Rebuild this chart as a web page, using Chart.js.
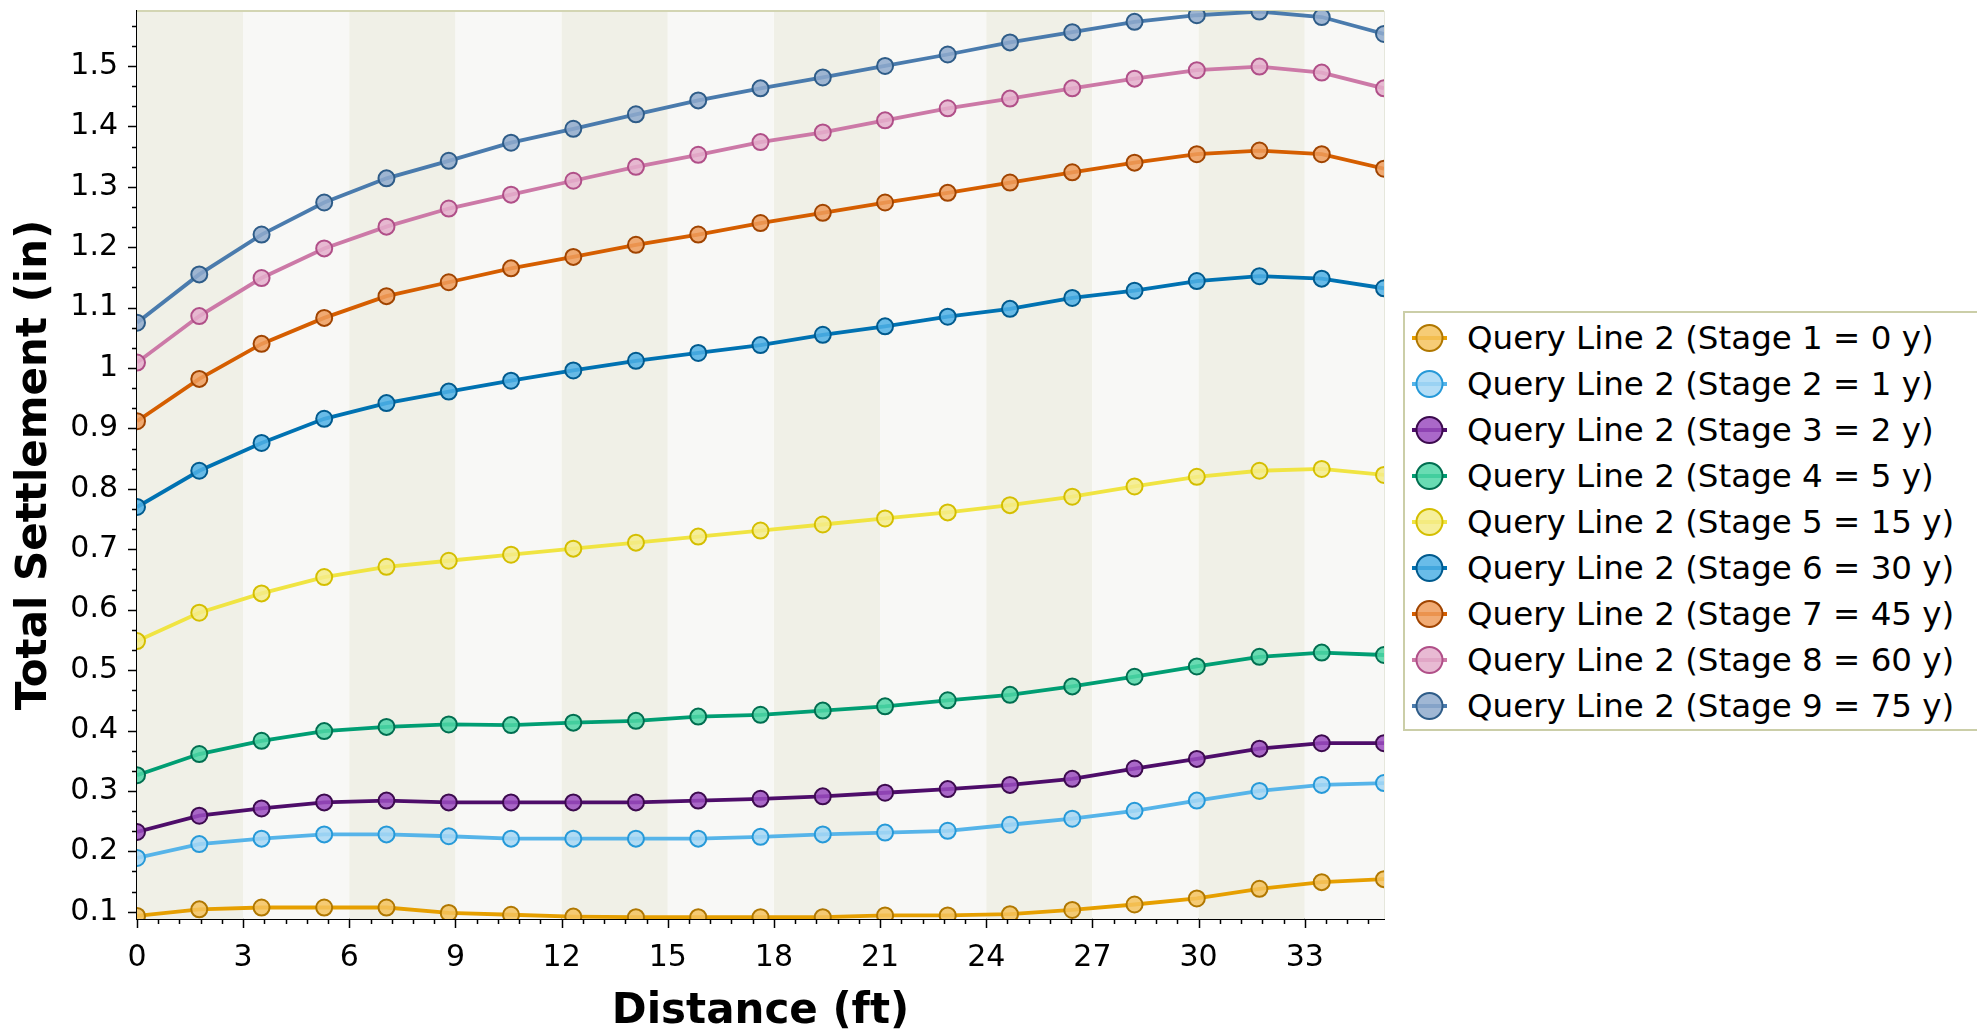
<!DOCTYPE html>
<html>
<head>
<meta charset="utf-8">
<script src="https://cdn.jsdelivr.net/npm/chart.js@4.4.1/dist/chart.umd.min.js"></script>
<style>
  html, body { margin: 0; padding: 0; background: #fff; overflow: hidden; }
  #wrap { position: relative; width: 1977px; height: 1031px; }
  #legend {
    position: absolute; left: 1403px; top: 311px; width: 640px; height: 416px;
    border: 2px solid #cbcea8; background: #fff; color: #000;
    font-family: 'DejaVu Sans', sans-serif; font-size: 32.5px;
  }
  .item { position: absolute; left: 0; height: 46px; display: flex; align-items: center; white-space: nowrap; }
  .item svg { flex: none; }
  .item span { margin-left: 12px; }
</style>
</head>
<body>
<div id="wrap">
  <canvas id="chart" width="1977" height="1031"></canvas>
  <div id="legend"></div>
</div>
<script>
// distance along query line (ft)
const distanceFt = [0, 1.76, 3.52, 5.29, 7.05, 8.81, 10.57, 12.33, 14.10, 15.86, 17.62,
  19.38, 21.14, 22.91, 24.67, 26.43, 28.19, 29.95, 31.72, 33.48, 35.24];

// total settlement (in) per stage
const stage1 = [0.093, 0.104, 0.107, 0.107, 0.107, 0.098, 0.095, 0.092, 0.091, 0.091, 0.091,
  0.091, 0.094, 0.094, 0.096, 0.103, 0.112, 0.122, 0.138, 0.149, 0.154];
const stage2 = [0.189, 0.212, 0.221, 0.228, 0.228, 0.225, 0.221, 0.221, 0.221, 0.221, 0.224,
  0.228, 0.231, 0.234, 0.244, 0.254, 0.267, 0.284, 0.300, 0.310, 0.313];
const stage3 = [0.232, 0.259, 0.271, 0.281, 0.284, 0.281, 0.281, 0.281, 0.281, 0.284, 0.287,
  0.291, 0.297, 0.303, 0.310, 0.320, 0.337, 0.353, 0.370, 0.379, 0.379];
const stage4 = [0.326, 0.361, 0.383, 0.399, 0.406, 0.410, 0.409, 0.413, 0.416, 0.423, 0.426,
  0.433, 0.440, 0.450, 0.459, 0.473, 0.489, 0.506, 0.522, 0.529, 0.525];
const stage5 = [0.548, 0.595, 0.627, 0.654, 0.671, 0.681, 0.691, 0.701, 0.711, 0.721, 0.731,
  0.741, 0.751, 0.761, 0.773, 0.787, 0.804, 0.820, 0.830, 0.833, 0.823];
const stage6 = [0.770, 0.830, 0.876, 0.916, 0.942, 0.961, 0.979, 0.996, 1.012, 1.025, 1.038,
  1.055, 1.069, 1.085, 1.098, 1.116, 1.128, 1.144, 1.152, 1.148, 1.132];
const stage7 = [0.912, 0.982, 1.040, 1.083, 1.119, 1.142, 1.165, 1.184, 1.204, 1.221, 1.240,
  1.257, 1.274, 1.290, 1.307, 1.324, 1.340, 1.354, 1.360, 1.354, 1.330];
const stage8 = [1.009, 1.086, 1.149, 1.198, 1.234, 1.264, 1.287, 1.310, 1.333, 1.353, 1.374,
  1.390, 1.410, 1.430, 1.446, 1.463, 1.479, 1.493, 1.499, 1.489, 1.463];
const stage9 = [1.075, 1.155, 1.221, 1.274, 1.314, 1.343, 1.373, 1.396, 1.420, 1.443, 1.463,
  1.481, 1.500, 1.519, 1.539, 1.556, 1.573, 1.584, 1.590, 1.581, 1.553];

const stageLabels = [
  "Query Line 2 (Stage 1 = 0 y)",
  "Query Line 2 (Stage 2 = 1 y)",
  "Query Line 2 (Stage 3 = 2 y)",
  "Query Line 2 (Stage 4 = 5 y)",
  "Query Line 2 (Stage 5 = 15 y)",
  "Query Line 2 (Stage 6 = 30 y)",
  "Query Line 2 (Stage 7 = 45 y)",
  "Query Line 2 (Stage 8 = 60 y)",
  "Query Line 2 (Stage 9 = 75 y)",
];
const stageValues = [stage1, stage2, stage3, stage4, stage5, stage6, stage7, stage8, stage9];

const lineColors = ["#e69f00", "#56b4e9", "#4e0d6a", "#009e73", "#f0e442", "#0072b2", "#d55e00", "#cc79a7", "#4a7bad"];
const fillColors = ["rgba(244,195,94,0.85)", "rgba(166,215,245,0.85)", "rgba(155,77,192,0.85)",
  "rgba(79,214,166,0.85)", "rgba(244,236,138,0.85)", "rgba(79,176,229,0.85)",
  "rgba(239,156,92,0.85)", "rgba(228,174,203,0.85)", "rgba(143,170,204,0.85)"];
const edgeColors = ["#b07700", "#2699d8", "#3c0a4e", "#006e50", "#d4be00", "#005a8e", "#a04400", "#b04f88", "#2e5c88"];

const xMin = 0, xMax = 35.24;
const yMin = 0.088, yMax = 1.591;

const tickFont = "'DejaVu Sans', sans-serif";

// alternating vertical bands behind the lines, every 3 ft
const plotBands = {
  id: "plotBands",
  beforeDatasetsDraw(chart) {
    const { ctx, chartArea, scales: { x } } = chart;
    ctx.save();
    for (let v = xMin, k = 0; v < xMax; v += 3, k++) {
      const x0 = x.getPixelForValue(v);
      const x1 = x.getPixelForValue(Math.min(v + 3, xMax));
      ctx.fillStyle = k % 2 === 0 ? "#f0f0e7" : "#f8f8f6";
      ctx.fillRect(x0, chartArea.top, x1 - x0, chartArea.bottom - chartArea.top);
    }
    ctx.strokeStyle = "#d3d5b3";
    ctx.lineWidth = 2;
    ctx.beginPath();
    ctx.moveTo(chartArea.left, chartArea.top);
    ctx.lineTo(chartArea.right, chartArea.top);
    ctx.stroke();
    ctx.strokeStyle = "#e6e7dc";
    ctx.lineWidth = 1;
    ctx.beginPath();
    ctx.moveTo(chartArea.right + 0.5, chartArea.top);
    ctx.lineTo(chartArea.right + 0.5, chartArea.bottom);
    ctx.stroke();
    ctx.restore();
  },
};

// outward major + minor tick marks on both axes
const axisTicks = {
  id: "axisTicks",
  afterDraw(chart) {
    const { ctx, chartArea, scales: { x, y } } = chart;
    ctx.save();
    ctx.strokeStyle = "#000";
    ctx.lineWidth = 1.5;
    ctx.beginPath();
    for (let k = 0; k * 0.6 <= xMax + 1e-9; k++) {
      const px = Math.round(x.getPixelForValue(k * 0.6)) + 0.5;
      const len = k % 5 === 0 ? 9 : 5;
      ctx.moveTo(px, chartArea.bottom);
      ctx.lineTo(px, chartArea.bottom + len);
    }
    for (let k = 0; 0.1 + k / 30 <= yMax; k++) {
      const py = Math.round(y.getPixelForValue(0.1 + k / 30)) + 0.5;
      const len = k % 3 === 0 ? 9 : 5;
      ctx.moveTo(chartArea.left, py);
      ctx.lineTo(chartArea.left - len, py);
    }
    ctx.stroke();
    ctx.restore();
  },
};

new Chart(document.getElementById("chart"), {
  type: "line",
  data: {
    datasets: stageLabels.map((label, i) => ({
      label,
      data: distanceFt.map((d, j) => ({ x: d, y: stageValues[i][j] })),
      borderColor: lineColors[i],
      borderWidth: 3.8,
      pointRadius: 8,
      pointBorderWidth: 2,
      pointBackgroundColor: fillColors[i],
      pointBorderColor: edgeColors[i],
      tension: 0,
      clip: 0,
    })),
  },
  options: {
    responsive: false,
    devicePixelRatio: 1,
    animation: false,
    layout: { padding: { top: 11, right: 593, left: 0, bottom: 0 } },
    plugins: { legend: { display: false }, tooltip: { enabled: false } },
    scales: {
      x: {
        type: "linear",
        min: xMin,
        max: xMax,
        grid: { display: false, drawTicks: false },
        border: { display: true, color: "#000", width: 2 },
        ticks: {
          stepSize: 3,
          includeBounds: false,
          autoSkip: false,
          maxRotation: 0,
          padding: 21,
          color: "#000",
          font: { family: tickFont, size: 30 },
        },
        title: {
          display: true,
          text: "Distance (ft)",
          color: "#000",
          font: { family: "'DejaVu Sans', sans-serif", size: 42, weight: "bold", lineHeight: 1.1 },
          padding: { top: 0, bottom: -4 },
        },
        afterFit(scale) {
          scale.height = 112;
          scale.paddingLeft = 0;
          scale.paddingRight = 0;
        },
      },
      y: {
        type: "linear",
        min: yMin,
        max: yMax,
        grid: { display: false, drawTicks: false },
        border: { display: true, color: "#000", width: 2 },
        ticks: {
          stepSize: 0.1,
          includeBounds: false,
          autoSkip: false,
          padding: 19,
          color: "#000",
          font: { family: tickFont, size: 30 },
          callback: (v) => String(Math.round(v * 10) / 10),
        },
        title: {
          display: true,
          text: "Total Settlement (in)",
          color: "#000",
          font: { family: "'DejaVu Sans', sans-serif", size: 42, weight: "bold", lineHeight: 1.1 },
          padding: { top: 12, bottom: 0 },
        },
        afterFit(scale) {
          scale.width = 137;
          scale.paddingTop = 0;
          scale.paddingBottom = 0;
        },
      },
    },
  },
  plugins: [plotBands, axisTicks],
});

// legend box on the right
const legend = document.getElementById("legend");
stageLabels.forEach((label, i) => {
  const row = document.createElement("div");
  row.className = "item";
  row.style.top = (1.7 + 46 * i) + "px";
  row.innerHTML =
    `<svg width="50" height="46"><line x1="7" y1="23" x2="42" y2="23" stroke="${lineColors[i]}" stroke-width="4"/>` +
    `<circle cx="24.5" cy="23" r="13" fill="${fillColors[i]}" stroke="${edgeColors[i]}" stroke-width="2"/></svg>` +
    `<span>${label}</span>`;
  legend.appendChild(row);
});
</script>
</body>
</html>
